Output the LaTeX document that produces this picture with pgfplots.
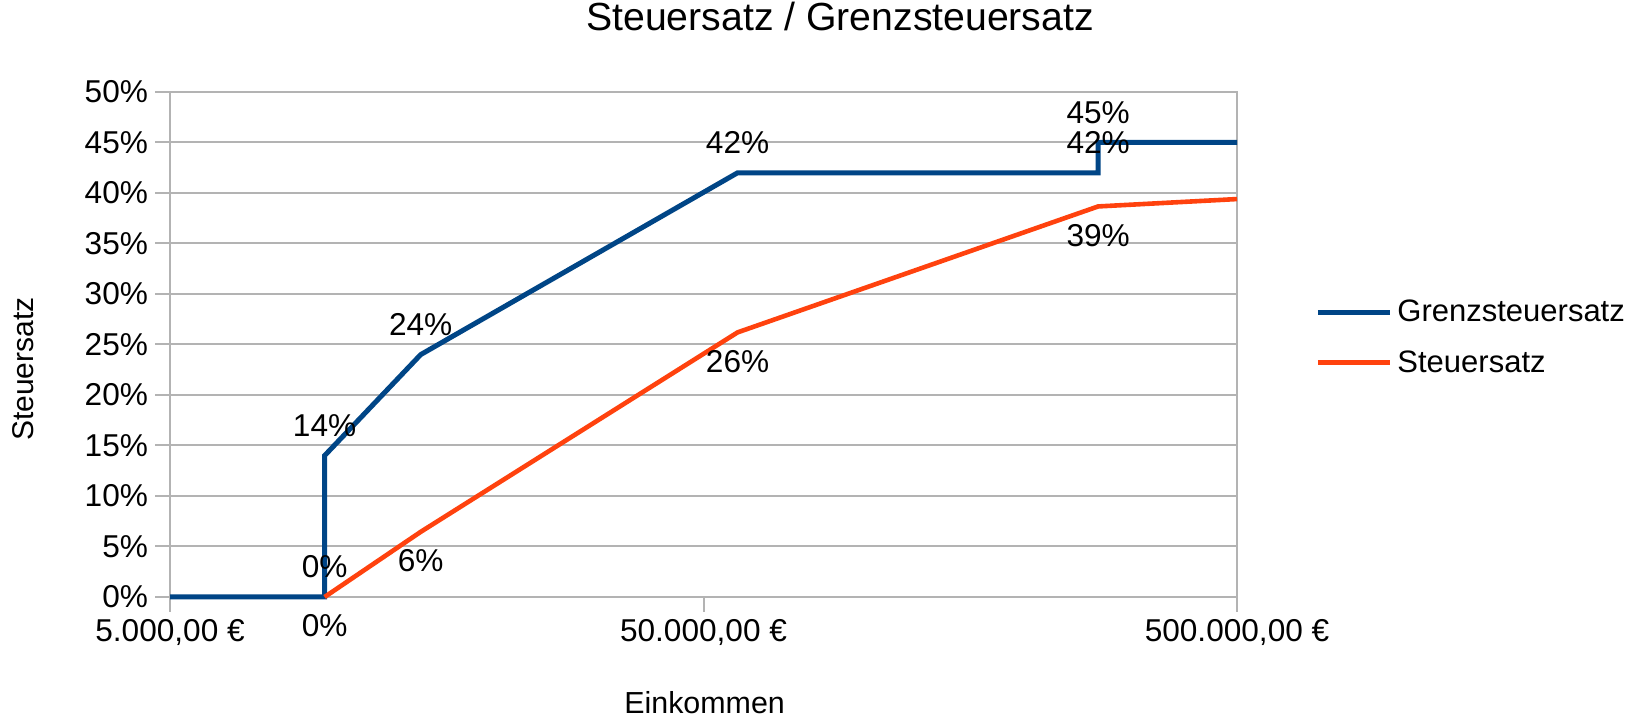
\documentclass[border=0pt]{standalone}
\usepackage{fontspec}
\setmainfont{Liberation Sans}
\usepackage{pgfplots}
\pgfplotsset{compat=1.18}
\definecolor{grenz}{HTML}{004586}
\definecolor{steuer}{HTML}{FF420E}
\definecolor{gridc}{HTML}{B3B3B3}
\begin{document}
\begin{tikzpicture}[font=\fontsize{15.8}{19}\selectfont]
\path[use as bounding box] (0,0) rectangle (824pt,360.5pt);
\begin{axis}[
  at={(85pt,62pt)}, anchor=south west,
  scale only axis, width=533.5pt, height=252.5pt,
  xmode=log, xmin=5000, xmax=500000, ymin=0, ymax=50,
  xtick={5000,50000,500000},
  xticklabels={{5.000,00 €},{50.000,00 €},{500.000,00 €}},
  xminorticks=false,
  ytick={0,5,...,50},
  yticklabel={\pgfmathprintnumber{\tick}\%},
  /pgf/number format/assume math mode=true,
  ymajorgrids,
  major grid style={gridc, line width=1pt},
  axis line style={gridc, line width=1pt},
  tick style={gridc, line width=1pt},
  major tick length=7.5pt, tick align=outside,
  xtick pos=bottom, ytick pos=left,
  title={Steuersatz / Grenzsteuersatz},
  title style={at={(axis description cs:0.628,1.1267)}, anchor=center, font=\fontsize{19.6}{23}\selectfont},
  xlabel={Einkommen},
  xlabel style={at={(axis description cs:0.501,-0.209)}, anchor=center, font=\fontsize{15.2}{18}\selectfont},
  ylabel={Steuersatz},
  ylabel style={at={(axis description cs:-0.1378,0.451)}, anchor=center, rotate=0, font=\fontsize{15}{18}\selectfont},
  legend style={draw=none, fill=none, at={(1.0731,0.514)}, anchor=west, inner sep=0pt,
    font=\fontsize{15.5}{18}\selectfont, nodes={inner sep=2.5pt}, row sep=8pt},
  legend cell align=left,
  legend image code/.code={\draw[#1] (0pt,0pt) -- (36pt,0pt);},
  point meta=explicit symbolic,
  nodes near coords,
  clip=false,
]
\addplot[grenz, line width=2.5pt, nodes near coords style={anchor=center, yshift=15pt, text=black}]
  coordinates {(5000,0)[] (9744,0)[0\%] (9744,14)[14\%] (14753,24)[24\%] (57918,42)[42\%] (274612,42)[42\%] (274612,45)[45\%] (500000,45)[]};
\addlegendentry{Grenzsteuersatz}
\addplot[steuer, line width=2.3pt, nodes near coords style={anchor=center, yshift=-14.5pt, text=black}]
  coordinates {(9744,0)[0\%] (14753,6.45)[6\%] (57918,26.2)[26\%] (274612,38.67)[39\%] (500000,39.4)[]};
\addlegendentry{Steuersatz}
\end{axis}
\end{tikzpicture}
\end{document}
